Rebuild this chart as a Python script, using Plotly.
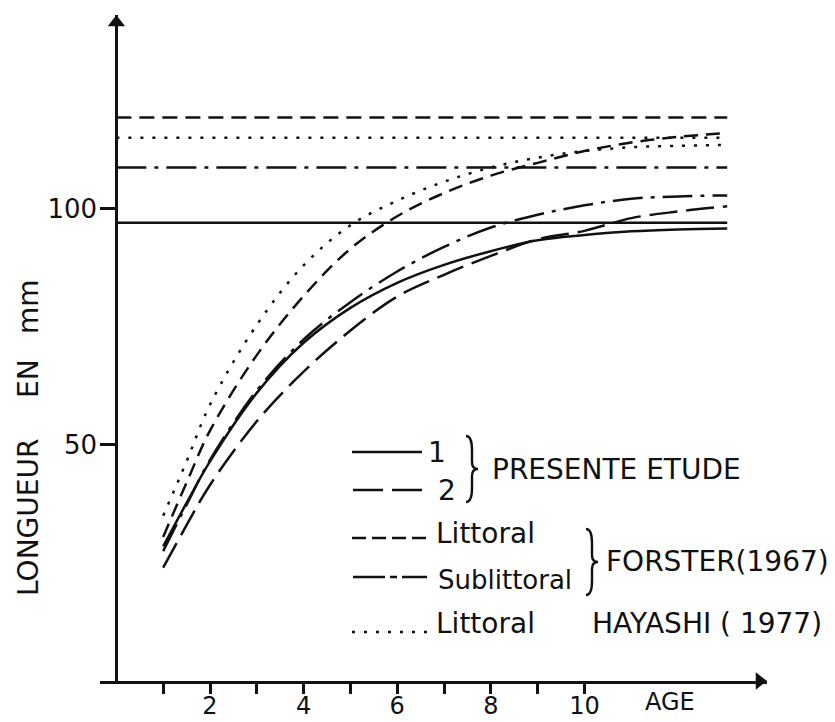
import plotly.graph_objects as go

# ---------------- data ----------------
ages = [1, 1.5, 2, 3, 4, 5, 6, 7, 8, 9, 10, 11, 12, 13.05]
etude_1 = [28.5, 37.7, 46.5, 61.0, 71.6, 79.0, 84.3, 88.1, 91.0, 93.3, 94.4, 95.2, 95.6, 95.8]
etude_2 = [24.0, 33.0, 41.5, 55.0, 65.5, 74.2, 81.4, 86.0, 90.0, 93.5, 95.3, 98.0, 99.4, 100.5]
forster_littoral = [30.5, 42.0, 53.0, 69.0, 81.5, 91.5, 98.4, 103.3, 107.0, 109.7, 112.2, 114.0, 115.2, 116.0]
forster_sublittoral = [27.5, 37.3, 46.8, 61.5, 72.3, 80.2, 86.7, 91.9, 96.0, 98.7, 100.7, 102.1, 102.6, 102.8]
hayashi_littoral = [35.0, 46.5, 58.5, 75.4, 88.0, 96.5, 101.7, 105.7, 108.7, 110.8, 112.2, 113.0, 113.3, 113.5]

# asymptotes (horizontal lines)
asym_forster_littoral = 119.3
asym_hayashi = 115.0
asym_forster_sublittoral = 108.7
asym_etude = 97.0

x_ticks = [1, 2, 3, 4, 5, 6, 7, 8, 9, 10]
x_ticklabels = ["", "2", "", "4", "", "6", "", "8", "", "10"]
y_ticks = [50, 100]
y_ticklabels = ["50", "100"]

# ---------------- layout geometry ----------------
W, H = 835, 722
ML, MR, MT, MB = 100, 68, 15, 41
xr = [-0.35, 13.9]
yr = [0, 141]
PW, PH = W - ML - MR, H - MT - MB


def px2x(px):
    return xr[0] + (px - ML) / PW * (xr[1] - xr[0])


def py2y(py):
    return yr[0] + (H - MB - py) / PH * (yr[1] - yr[0])


def px2p(px):
    return (px - ML) / PW


def py2p(py):
    return (H - MB - py) / PH


FONT = "DejaVu Sans"
INK = "#111111"
LW = 2.5

fig = go.Figure()

x_end = ages[-1]
# horizontal asymptote lines
for val, dash in [
    (asym_forster_littoral, "15px,8px"),
    (asym_hayashi, "3px,9px"),
    (asym_forster_sublittoral, "30px,8px,4px,8px"),
    (asym_etude, "solid"),
]:
    fig.add_trace(go.Scatter(x=[0, x_end], y=[val, val], mode="lines",
                             line=dict(color=INK, width=LW, dash=dash),
                             hoverinfo="skip", showlegend=False))

# growth curves
for ys, dash in [
    (etude_1, "solid"),
    (etude_2, "28px,9px"),
    (forster_littoral, "14px,8px"),
    (forster_sublittoral, "30px,8px,4px,8px"),
    (hayashi_littoral, "3px,9px"),
]:
    fig.add_trace(go.Scatter(x=ages, y=ys, mode="lines",
                             line=dict(color=INK, width=LW, dash=dash, shape="spline", smoothing=1.0),
                             hoverinfo="skip", showlegend=False))

# axis arrowheads
ysc = (yr[1] - yr[0]) / PH
xsc = (xr[1] - xr[0]) / PW
fig.add_trace(go.Scatter(x=[0], y=[yr[1] - 7.5 * ysc], mode="markers",
                         marker=dict(symbol="triangle-up", size=15, color=INK),
                         cliponaxis=False, hoverinfo="skip", showlegend=False))
fig.add_trace(go.Scatter(x=[xr[1] - 7.5 * xsc], y=[0], mode="markers",
                         marker=dict(symbol="triangle-right", size=15, color=INK),
                         cliponaxis=False, hoverinfo="skip", showlegend=False))

shapes = []


def hline(px0, px1, py, dash):
    shapes.append(dict(type="line", xref="x", yref="y",
                       x0=px2x(px0), x1=px2x(px1), y0=py2y(py), y1=py2y(py),
                       line=dict(color=INK, width=LW, dash=dash)))

hline(352, 422, 452, "solid")
hline(353, 422, 490, "30px,9px")
hline(352, 427, 538, "14px,6px")
hline(353, 427, 577, "32px,5px,7px,5px")
hline(352, 427, 632, "3px,9px")


def brace(pxc, pyc, h):
    half = h / 2.0
    xa = px2x(pxc - 5)
    xm = px2x(pxc + 1)
    xt = px2x(pxc + 7)
    yt = py2y(pyc - half)
    yb = py2y(pyc + half)
    yc = py2y(pyc)
    d = 7 * ysc
    path = (f"M {xa},{yt} Q {xm},{yt} {xm},{yt - 2*d} L {xm},{yc + d} "
            f"Q {xm},{yc} {xt},{yc} Q {xm},{yc} {xm},{yc - d} "
            f"L {xm},{yb + 2*d} Q {xm},{yb} {xa},{yb}")
    shapes.append(dict(type="path", xref="x", yref="y", path=path,
                       line=dict(color=INK, width=2.4)))

brace(471, 469, 66)
brace(591, 562, 66)

annotations = []


def txt(s, px, py, size=28, xanchor="left", angle=0):
    annotations.append(dict(text=s, x=px2p(px), y=py2p(py), xref="paper", yref="paper",
                            showarrow=False, xanchor=xanchor, yanchor="middle",
                            textangle=angle,
                            font=dict(family=FONT, size=size, color=INK)))

txt("1", 437, 452, xanchor="center")
txt("2", 447, 490, xanchor="center")
txt("PRESENTE ETUDE", 490, 469)
txt("Littoral", 434, 533)
txt("Sublittoral", 436, 580, size=26)
txt("FORSTER(1967)", 604, 561)
txt("Littoral", 434, 623)
txt("HAYASHI ( 1977)", 590, 623)
txt("AGE", 670, 702, size=24, xanchor="center")
txt("LONGUEUR", 28, 518, size=28, xanchor="center", angle=-90)
txt("EN", 28, 379, size=28, xanchor="center", angle=-90)
txt("mm", 28, 307, size=28, xanchor="center", angle=-90)

fig.update_layout(
    width=W, height=H,
    margin=dict(l=ML, r=MR, t=MT, b=MB, autoexpand=False),
    paper_bgcolor="white", plot_bgcolor="white",
    shapes=shapes, annotations=annotations,
    showlegend=False,
    xaxis=dict(range=xr, showgrid=False, zeroline=False, showline=True, automargin=False,
               linecolor=INK, linewidth=3, ticks="outside", ticklen=10,
               tickwidth=2.5, tickcolor=INK, tickvals=x_ticks, ticktext=x_ticklabels,
               ticklabelstandoff=-9,
               tickfont=dict(family=FONT, size=24, color=INK)),
    yaxis=dict(range=yr, showgrid=False, zeroline=False, showline=True, automargin=False,
               linecolor=INK, linewidth=3, ticks="outside", ticklen=15,
               tickwidth=2.5, tickcolor=INK, tickvals=y_ticks, ticktext=y_ticklabels,
               anchor="free", position=(0 - xr[0]) / (xr[1] - xr[0]),
               ticklabelstandoff=-2,
               tickfont=dict(family=FONT, size=26, color=INK)),
)

fig.write_html(
    "out.html",
    config={"displayModeBar": False},
    post_script="document.body.style.margin='0px';document.body.style.overflow='hidden';",
)
